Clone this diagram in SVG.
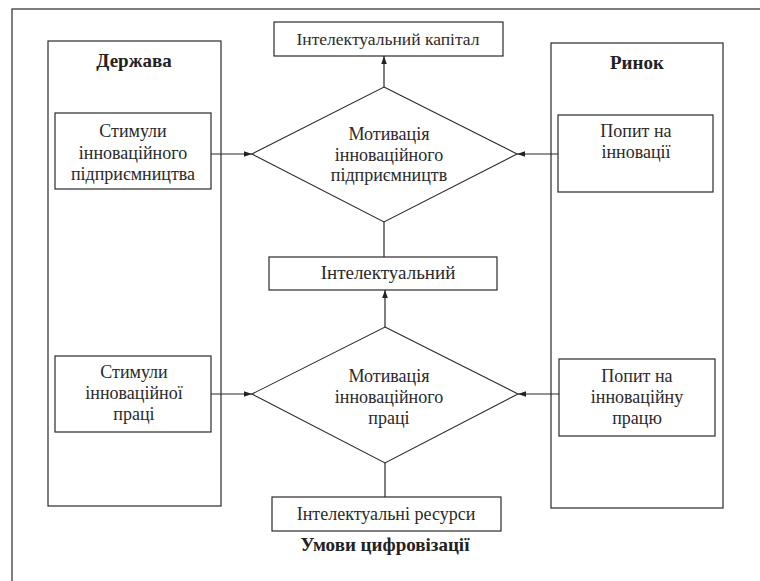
<svg xmlns="http://www.w3.org/2000/svg" width="760" height="581" viewBox="0 0 760 581">
<defs>
<marker id="ar" viewBox="0 0 10 10" refX="10" refY="5" markerWidth="8" markerHeight="8" markerUnits="userSpaceOnUse" orient="auto">
<path d="M0,1.5 L10,5 L0,8.5 z" fill="#222"/>
</marker>
</defs>
<rect x="0" y="0" width="760" height="581" fill="#fff"/>
<rect x="12" y="9" width="800" height="650" fill="none" stroke="#2a2a2a" stroke-width="1.2"/>
<g stroke="#2a2a2a" stroke-width="1.2" fill="#fff">
<rect id="derzhava-box" x="48" y="41" width="173" height="465"/>
<rect id="rynok-box" x="551" y="43" width="172" height="465"/>
<rect id="stym1-box" x="55" y="113" width="156" height="76"/>
<rect id="stym2-box" x="55" y="356" width="156" height="76"/>
<rect id="popyt1-box" x="558" y="115" width="155" height="77"/>
<rect id="popyt2-box" x="559" y="359" width="156" height="77"/>
<rect id="kapital-box" x="274" y="22" width="229" height="34"/>
<rect id="intel-box" x="269" y="257" width="228" height="33"/>
<rect id="resursy-box" x="272" y="497" width="229" height="34"/>
<polygon id="motiv1-shape" points="384,87 517,154 384,222 252,154" stroke-width="1.1"/>
<polygon id="motiv2-shape" points="385,327 518,394 385,463 252,394" stroke-width="1.1"/>
</g>
<g font-family="Liberation Serif" font-size="19" font-weight="bold" fill="#222" text-anchor="middle">
<text id="derzhava" x="134" y="67" font-family="Liberation Serif">Держава</text>
<text id="rynok" x="637" y="69" font-family="Liberation Serif">Ринок</text>
<text id="umovy" x="385" y="551" font-family="Liberation Serif">Умови цифровізації</text>
</g>
<g font-family="Liberation Serif" font-size="18" fill="#2a2a2a" text-anchor="middle">
<g id="stym1"><text x="133" y="137" font-family="Liberation Serif">Стимули</text><text x="133" y="159" font-family="Liberation Serif">інноваційного</text><text x="133" y="180" font-family="Liberation Serif">підприємництва</text></g>
<g id="stym2"><text x="134" y="378" font-family="Liberation Serif">Стимули</text><text x="134" y="399" font-family="Liberation Serif">інноваційної</text><text x="134" y="420" font-family="Liberation Serif">праці</text></g>
<g id="popyt1"><text x="636" y="137" font-family="Liberation Serif">Попит на</text><text x="636" y="158" font-family="Liberation Serif">інновації</text></g>
<g id="popyt2"><text x="637" y="382" font-family="Liberation Serif">Попит на</text><text x="637" y="403" font-family="Liberation Serif">інноваційну</text><text x="637" y="424" font-family="Liberation Serif">працю</text></g>
<g id="kapital"><text x="388" y="45" font-size="17.5" font-family="Liberation Serif">Інтелектуальний капітал</text></g>
<g id="intel"><text x="388" y="279" font-size="19" font-family="Liberation Serif">Інтелектуальний</text></g>
<g id="resursy"><text x="386" y="520" font-family="Liberation Serif">Інтелектуальні ресурси</text></g>
<g id="motiv1"><text x="389" y="140" font-family="Liberation Serif">Мотивація</text><text x="389" y="161" font-family="Liberation Serif">інноваційного</text><text x="389" y="181" font-family="Liberation Serif">підприємництв</text></g>
<g id="motiv2"><text x="389" y="382" font-family="Liberation Serif">Мотивація</text><text x="389" y="403" font-family="Liberation Serif">інноваційного</text><text x="389" y="424" font-family="Liberation Serif">праці</text></g>
</g>
<g id="connectors" stroke="#2a2a2a" stroke-width="1.2" fill="none">
<line x1="384" y1="87" x2="384" y2="56" marker-end="url(#ar)"/>
<line x1="384" y1="257" x2="384" y2="222"/>
<line x1="385" y1="327" x2="385" y2="290" marker-end="url(#ar)"/>
<line x1="385" y1="497" x2="385" y2="463"/>
<line x1="211" y1="154" x2="252" y2="154" marker-end="url(#ar)"/>
<line x1="211" y1="394" x2="252" y2="394" marker-end="url(#ar)"/>
<line x1="558" y1="154" x2="517" y2="154" marker-end="url(#ar)"/>
<line x1="559" y1="394" x2="518" y2="394" marker-end="url(#ar)"/>
</g>
</svg>
